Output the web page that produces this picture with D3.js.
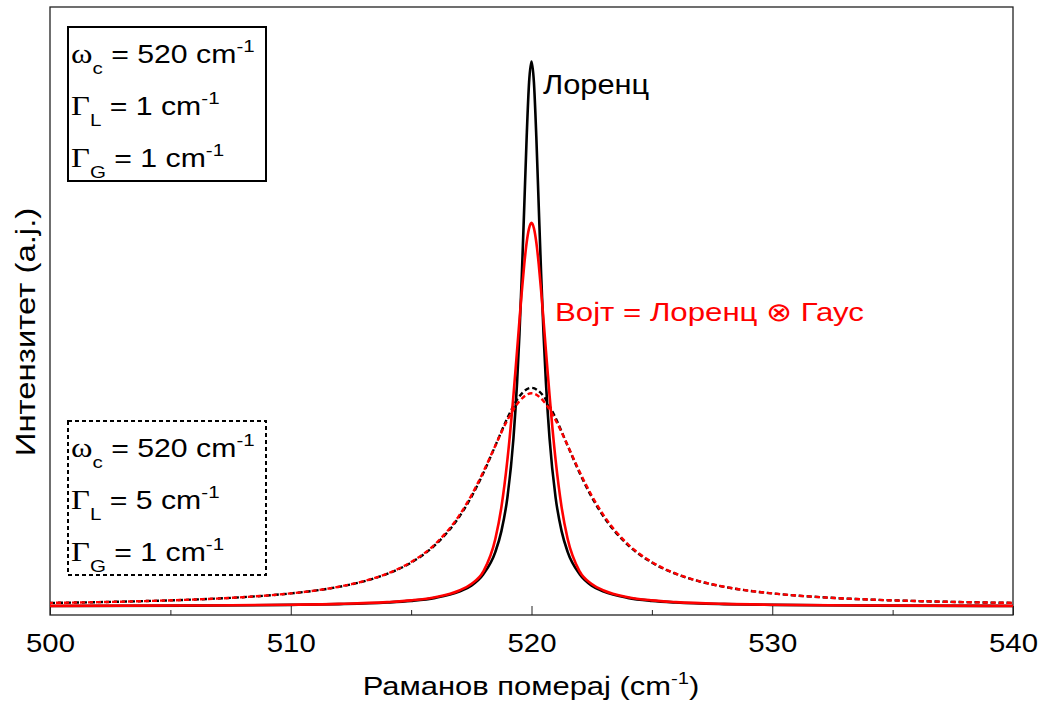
<!DOCTYPE html>
<html lang="sr">
<head>
<meta charset="UTF-8">
<title>Лоренц и Војт</title>
<style>
  body { margin: 0; background: #fff; }
  svg text { font-family: "Liberation Sans", Arial, sans-serif; }
  .frame { fill: none; stroke: #222; stroke-width: 1.3px; }
  .curve { fill: none; }
</style>
</head>
<body>
<div id="chart"></div>
<script src="https://d3js.org/d3.v7.min.js"></script>
<script>
// raman shift samples (cm^-1)
const xNarrow = [500, 506, 510, 512, 514, 515, 516, 517, 517.5, 518, 518.5, 518.75, 519, 519.25, 519.4, 519.5, 519.6, 519.7, 519.8, 519.9,
  520, 520.1, 520.2, 520.3, 520.4, 520.5, 520.6, 520.75, 521, 521.25, 521.5, 522, 522.5, 523, 524, 525, 526, 528, 530, 534, 540];
const lorentzNarrow = [0.0006, 0.0013, 0.0025, 0.0039, 0.0069, 0.0099, 0.0154, 0.027, 0.038, 0.059, 0.1, 0.138, 0.2, 0.308, 0.41, 0.5, 0.61, 0.735, 0.862, 0.962,
  1.0, 0.962, 0.862, 0.735, 0.61, 0.5, 0.41, 0.308, 0.2, 0.138, 0.1, 0.059, 0.038, 0.027, 0.0154, 0.0099, 0.0069, 0.0039, 0.0025, 0.0013, 0.0006];
const voigtNarrow = [0.0007, 0.0014, 0.0028, 0.0044, 0.0077, 0.0109, 0.0167, 0.029, 0.041, 0.064, 0.124, 0.182, 0.269, 0.387, 0.469, 0.525, 0.579, 0.628, 0.668, 0.694,
  0.704, 0.694, 0.668, 0.628, 0.579, 0.525, 0.469, 0.387, 0.269, 0.182, 0.124, 0.064, 0.041, 0.029, 0.0167, 0.0109, 0.0077, 0.0044, 0.0028, 0.0014, 0.0007];

const xWide = [500, 502, 504, 506, 508, 510, 511, 512, 513, 514, 515, 516, 517, 517.5, 518, 518.5, 519, 519.5,
  520, 520.5, 521, 521.5, 522, 522.5, 523, 524, 525, 526, 527, 528, 529, 530, 532, 534, 536, 538, 540];
const lorentzWide = [0.0062, 0.0076, 0.0096, 0.0124, 0.0167, 0.0236, 0.0287, 0.0357, 0.0454, 0.0593, 0.0802, 0.1126, 0.1643, 0.2005, 0.2445, 0.2949, 0.3457, 0.3856,
  0.401, 0.3856, 0.3457, 0.2949, 0.2445, 0.2005, 0.1643, 0.1126, 0.0802, 0.0593, 0.0454, 0.0357, 0.0287, 0.0236, 0.0167, 0.0124, 0.0096, 0.0076, 0.0062];
const voigtWide = [0.0062, 0.0076, 0.0096, 0.0124, 0.0167, 0.0237, 0.0288, 0.0359, 0.0457, 0.0599, 0.0812, 0.1143, 0.1669, 0.2034, 0.2469, 0.2953, 0.3418, 0.3766,
  0.391, 0.3766, 0.3418, 0.2953, 0.2469, 0.2034, 0.1669, 0.1143, 0.0812, 0.0599, 0.0457, 0.0359, 0.0288, 0.0237, 0.0167, 0.0124, 0.0096, 0.0076, 0.0062];

const majorTicks = [500, 510, 520, 530, 540];
const minorTicks = [505, 515, 525, 535];

const W = 1044, H = 704;
const margin = {top: 7, right: 31, bottom: 89, left: 50};
const width = W - margin.left - margin.right,
      height = H - margin.top - margin.bottom;

const svg = d3.select("#chart").append("svg")
  .attr("width", W)
  .attr("height", H);

const g = svg.append("g")
  .attr("transform", `translate(${margin.left},${margin.top})`);

const x = d3.scaleLinear().domain([500, 540]).range([0, width]);
const y = d3.scaleLinear().domain([-0.016, 1.1]).range([height, 0]);

// the original lettering is a bit wider than Liberation Sans, so stretch it
function label(parent, px, py, sx, size) {
  return parent.append("text")
    .attr("transform", `translate(${px},${py}) scale(${sx},1)`)
    .style("font-size", size + "px");
}

// ticks point inward
g.append("g")
  .attr("transform", `translate(0,${height})`)
  .call(d3.axisBottom(x).tickValues(minorTicks).tickSize(-5).tickFormat(""))
  .call(a => a.select(".domain").remove())
  .selectAll("line").attr("stroke", "#222");

const xAxis = g.append("g")
  .attr("transform", `translate(0,${height})`)
  .call(d3.axisBottom(x).tickValues(majorTicks).tickSize(-9).tickPadding(0).tickFormat(d3.format("d")));
xAxis.select(".domain").remove();
xAxis.selectAll("line").attr("stroke", "#222");
xAxis.selectAll("text")
  .attr("y", 37)
  .attr("dy", 0)
  .attr("transform", "scale(1.13,1)")
  .attr("fill", "#000")
  .style("font-size", "26px")
  .style("font-family", "'Liberation Sans', Arial, sans-serif");

g.append("rect")
  .attr("class", "frame")
  .attr("width", width)
  .attr("height", height);

function line(xs) {
  return d3.line()
    .x((d, i) => x(xs[i]))
    .y(d => y(d))
    .curve(d3.curveMonotoneX);
}

g.append("path").datum(lorentzWide).attr("class", "curve")
  .attr("d", line(xWide)).attr("stroke", "#000").attr("stroke-width", 2.4)
  .attr("stroke-dasharray", "5,3");
g.append("path").datum(lorentzNarrow).attr("class", "curve")
  .attr("d", line(xNarrow)).attr("stroke", "#000").attr("stroke-width", 2.6);
g.append("path").datum(voigtNarrow).attr("class", "curve")
  .attr("d", line(xNarrow)).attr("stroke", "#ff0000").attr("stroke-width", 2.6);
g.append("path").datum(voigtWide).attr("class", "curve")
  .attr("d", line(xWide)).attr("stroke", "#ff0000").attr("stroke-width", 2.4)
  .attr("stroke-dasharray", "5,3").attr("stroke-dashoffset", 2);

// curve labels
label(svg, 543, 94, 1.1, 28).text("Лоренц");

label(svg, 555, 321, 1.2, 26)
  .attr("fill", "#ff0000")
  .text("Војт = Лоренц ⊗ Гаус");

// axis titles
const xt = label(svg, 531, 695, 1.19, 26)
  .attr("text-anchor", "middle");
xt.append("tspan").text("Раманов померај (cm");
xt.append("tspan").attr("dy", -11).style("font-size", "17px").text("-1");
xt.append("tspan").attr("dy", 11).text(")");

svg.append("g")
  .attr("transform", "translate(35,332) rotate(-90)")
  .call(gr => label(gr, 0, 0, 1.22, 27)
    .attr("text-anchor", "middle")
    .text("Интензитет (a.j.)"));

// parameter boxes
const boxes = [
  {top: 27, dash: null, rows: [["ω", "c", "520"], ["Γ", "L", "1"], ["Γ", "G", "1"]]},
  {top: 421, dash: "4,3", rows: [["ω", "c", "520"], ["Γ", "L", "5"], ["Γ", "G", "1"]]}
];

boxes.forEach(b => {
  svg.append("rect")
    .attr("x", 68).attr("y", b.top)
    .attr("width", 198).attr("height", 154)
    .attr("fill", "none")
    .attr("stroke", "#000")
    .attr("stroke-width", 2)
    .attr("stroke-dasharray", b.dash);

  b.rows.forEach((r, i) => {
    const t = label(svg, 71, b.top + 36 + i * 52, 1.21, 25);
    t.append("tspan").style("font-family", "'Liberation Serif', 'Times New Roman', serif")
      .style("font-size", "27px").text(r[0]);
    t.append("tspan").attr("dy", 11).style("font-size", "17px").text(r[1]);
    t.append("tspan").attr("dy", -11).text(` = ${r[2]} cm`);
    t.append("tspan").attr("dy", -11).style("font-size", "17px").text("-1");
  });
});
</script>
</body>
</html>
